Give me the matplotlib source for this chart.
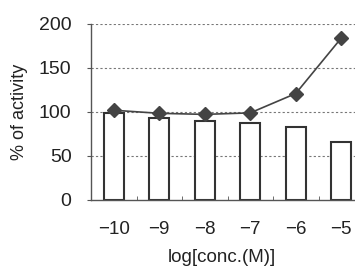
import matplotlib
matplotlib.use("Agg")
import matplotlib.pyplot as plt
import numpy as np

categories = ["−10", "−9", "−8", "−7", "−6", "−5"]
bar_values = [99, 93, 90, 88, 83, 65.5]
line_values = [102, 98.5, 97.3, 99, 121, 184]
yticks = [0, 50, 100, 150, 200]

plt.rcParams['font.family'] = ['Liberation Sans', 'DejaVu Sans']

fig = plt.figure(figsize=(3.55, 2.73), dpi=100)
ax = fig.add_axes([91/355, 1-200/273, (364-91)/355, (200-24)/273])

x = np.arange(len(categories))
ax.bar(x, bar_values, width=0.44, color='white', edgecolor='#333333', linewidth=1.5, zorder=2)
ax.plot(x, line_values, color='#444444', linewidth=1.2, marker='D', markersize=7,
        markerfacecolor='#444444', markeredgecolor='#444444', zorder=3)

ax.set_xlim(-0.5, len(categories) - 0.5)
ax.set_ylim(0, 200)
ax.set_yticks(yticks)
ax.set_yticklabels([str(v) for v in yticks], fontsize=14, color='#222222')
ax.set_xticks(x)
ax.set_xticklabels(categories, fontsize=13.5, color='#222222')
ax.set_xticks(np.arange(len(categories) + 1) - 0.5, minor=True)
ax.tick_params(axis='x', which='major', length=0, pad=15)
ax.tick_params(axis='x', which='minor', length=3, direction='in', color='#555555')
ax.tick_params(axis='y', length=3, direction='out', color='#555555', pad=11)

for v in yticks[1:]:
    ax.axhline(v, color='#777777', linestyle=(0, (2, 2)), linewidth=0.8, zorder=1)

for s in ['top', 'right']:
    ax.spines[s].set_visible(False)
ax.spines['left'].set_color('#555555')
ax.spines['bottom'].set_color('#555555')
ax.spines['left'].set_linewidth(1.0)
ax.spines['bottom'].set_linewidth(1.0)

ax.set_xlabel("log[conc.(M)]", fontsize=13.5, color='#222222')
ax.xaxis.set_label_coords(0.48, -(258 - 200) / 176, transform=ax.transAxes)
ax.xaxis.label.set_verticalalignment('center')
ax.set_ylabel("% of activity", fontsize=13, color='#222222', labelpad=8)

fig.savefig("out.png", dpi=100)
